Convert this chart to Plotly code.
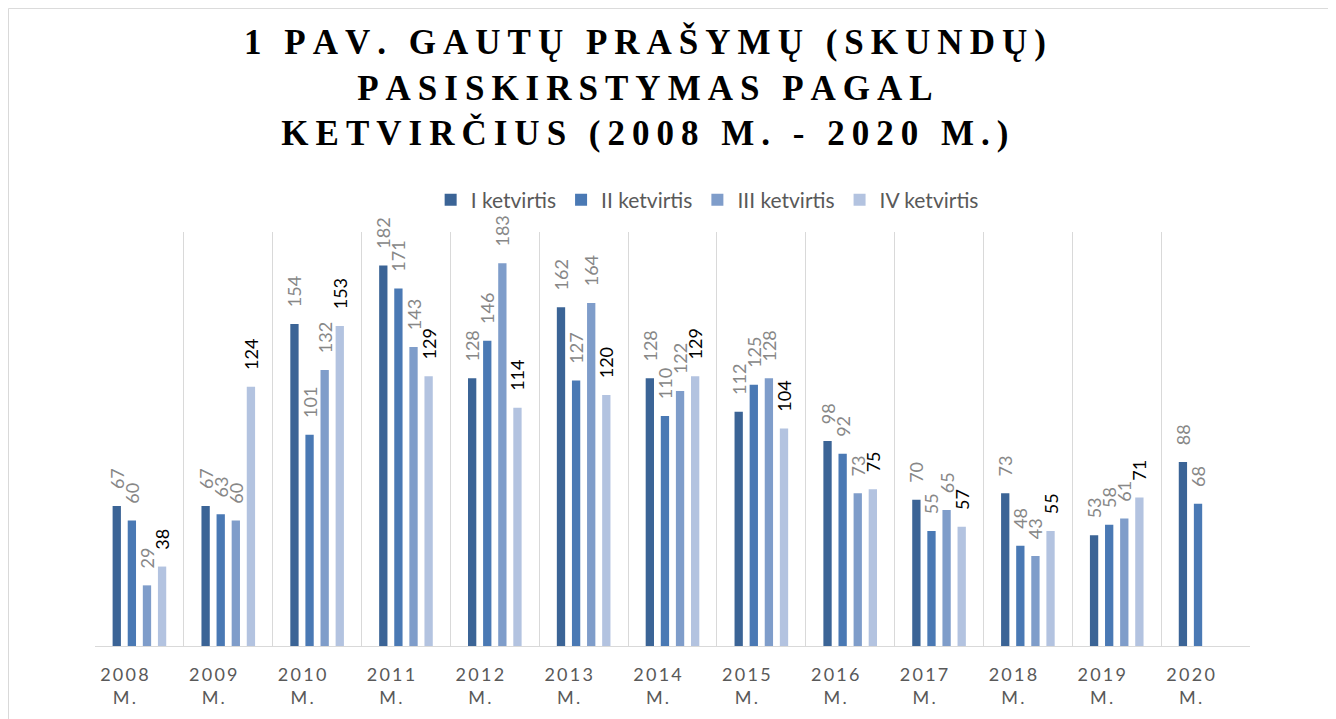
import plotly.graph_objects as go

years = ["2008 M.", "2009 M.", "2010 M.", "2011 M.", "2012 M.", "2013 M.", "2014 M.",
         "2015 M.", "2016 M.", "2017 M.", "2018 M.", "2019 M.", "2020 M."]
series_names = ["I ketvirtis", "II ketvirtis", "III ketvirtis", "IV ketvirtis"]
q1 = [67, 67, 154, 182, 128, 162, 128, 112, 98, 70, 73, 53, 88]
q2 = [60, 63, 101, 171, 146, 127, 110, 125, 92, 55, 48, 58, 68]
q3 = [29, 60, 132, 143, 183, 164, 122, 128, 73, 65, 43, 61, None]
q4 = [38, 124, 153, 129, 114, 120, 129, 104, 75, 57, 55, 71, None]

colors = ["#3b6496", "#4a79b4", "#7f9dca", "#b3c3e0"]
label_colors = ["#878787", "#878787", "#878787", "#000000"]

THIN = "\u2009"
NBSP = "\u00a0"


def spaced(s):
    return THIN.join(list(s))


ticktext = [spaced(y.split(" ")[0]) + "<br>" + spaced(y.split(" ")[1]) for y in years]
title_lines = ["1 PAV. GAUTŲ PRAŠYMŲ (SKUNDŲ)", "PASISKIRSTYMAS PAGAL",
               "KETVIRČIUS (2008 M. - 2020 M.)"]

fig = go.Figure()
for name, vals, c, lc in zip(series_names, [q1, q2, q3, q4], colors, label_colors):
    fig.add_trace(go.Bar(
        name=name, x=years, y=vals, marker_color=c, marker_line_width=0,
        text=[("" if v is None else NBSP * 3 + str(v)) for v in vals],
        textposition="outside", textangle=-90, constraintext="none",
        textfont=dict(family="Lato, Open Sans, sans-serif", size=18, color=lc),
        cliponaxis=False, hoverinfo="skip",
    ))

fig.update_layout(
    width=1336, height=719,
    margin=dict(l=87, r=94, t=224, b=81),
    paper_bgcolor="white", plot_bgcolor="white",
    barmode="group", bargap=0.32, bargroupgap=0.45,
    showlegend=True,
    legend=dict(orientation="h", x=0.530, xanchor="center", y=1.077, yanchor="middle",
                bgcolor="rgba(0,0,0,0)",
                font=dict(family="Lato, Open Sans, sans-serif", size=21, color="#595959"),
                itemwidth=30, traceorder="normal"),
    xaxis=dict(type="category", tickson="boundaries", showgrid=True, gridcolor="#d9d9d9",
               gridwidth=1, showline=True, linecolor="#d9d9d9", linewidth=1,
               ticks="", ticklabelstandoff=12, ticklabelshift=-15,
               tickmode="array", tickvals=years, ticktext=ticktext,
               tickfont=dict(family="Lato, Open Sans, sans-serif", size=18, color="#595959"),
               zeroline=False),
    yaxis=dict(range=[0, 198], showgrid=False, showticklabels=False, zeroline=False,
               showline=False),
    annotations=[dict(
        text="<br>".join(spaced(t) for t in title_lines),
        xref="paper", yref="paper", x=0.476, y=1.348, xanchor="center", yanchor="middle",
        showarrow=False, align="center",
        font=dict(family="Liberation Serif, Times New Roman, serif", size=35, color="#000000",
                  weight="bold"),
    )],
    shapes=[dict(type="rect", xref="paper", yref="paper", x0=-0.0749, x1=1.0693,
                 y0=-0.222, y1=1.540, line=dict(color="#d9d9d9", width=1),
                 fillcolor="rgba(0,0,0,0)", layer="below")],
)

fig.write_html("out.html")
